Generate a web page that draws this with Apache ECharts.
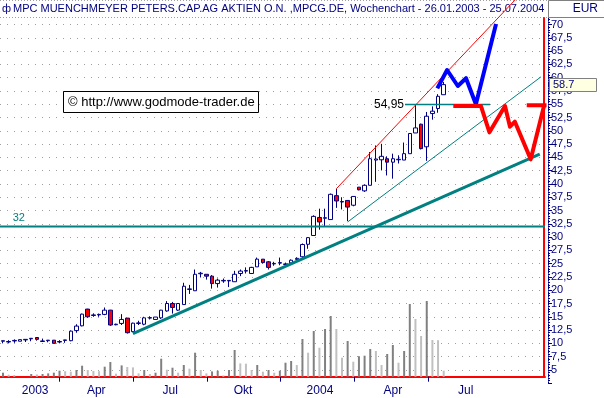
<!DOCTYPE html>
<html>
<head>
<meta charset="utf-8">
<script src="https://cdn.jsdelivr.net/npm/echarts@6/dist/echarts.min.js"></script>
<style>
html, body { margin: 0; padding: 0; background: #fff; }
#chart { width: 604px; height: 398px; }
</style>
</head>
<body>
<div id="chart"></div>
<script>
// weekly bars, index 0 = week of 26.01.2003, index 78 = week of 25.07.2004
var open = [
  10.4, 10.25, 10.45, 10.4, 10.65, 10.85, 11.1, 10.35, 10.5, 10.6,
  10.25, 10.55, 10.5, 12.4, 13.3, 16.45, 15.25, 15.35, 15.45, 16.25,
  13.5, 13.75, 14.75, 12.2, 13.75, 13.6, 14.75, 14.5, 14.8, 16.1,
  17.5, 16.25, 17.3, 20.15, 19.9, 23.1, 23.0, 22.65, 21.25, 21.75,
  21.75, 21.6, 23.15, 23.6, 23.15, 24.4, 25.85, 25.35, 24.95, 25.1,
  24.85, 25.15, 25.8, 26.3, 28.65, 30.3, 33.7, 33.55, 33.3, 37.8,
  36.6, 36.9, 36.0, 39.4, 38.7, 39.75, 44.5, 44.55, 44.75, 44.1,
  44.55, 44.5, 45.7, 49.6, 51.25, 47.0, 53.25, 54.2, 56.8
];
var close = [
  10.5, 10.35, 10.55, 10.7, 10.75, 10.95, 10.75, 10.45, 10.6, 10.0,
  10.35, 10.65, 12.3, 13.25, 15.5, 15.0, 15.35, 15.45, 16.25, 13.45,
  13.6, 14.5, 12.0, 13.8, 13.85, 14.8, 14.85, 14.95, 16.25, 17.5,
  16.75, 17.5, 20.75, 20.25, 23.0, 23.2, 22.65, 21.25, 21.9, 21.85,
  21.85, 23.0, 23.6, 23.7, 24.3, 25.85, 25.2, 24.3, 25.05, 25.2,
  24.95, 25.65, 26.0, 28.6, 29.9, 33.9, 32.85, 33.65, 38.05, 36.8,
  36.7, 35.65, 37.65, 38.9, 39.75, 44.75, 44.7, 45.2, 44.1, 44.75,
  44.65, 45.7, 49.5, 50.55, 46.65, 52.75, 53.7, 56.5, 58.7
];
var low = [
  10.0, 10.0, 10.1, 10.4, 10.25, 10.4, 10.5, 10.35, 10.2, 10.0,
  10.0, 10.1, 10.4, 12.0, 13.2, 14.8, 15.0, 15.0, 15.3, 13.3,
  13.4, 13.45, 11.85, 12.1, 13.45, 13.4, 14.5, 14.5, 14.6, 15.95,
  15.6, 16.1, 17.3, 19.3, 19.9, 22.4, 22.0, 20.3, 20.5, 21.4,
  20.6, 21.6, 22.65, 23.15, 23.15, 24.4, 25.0, 23.9, 24.6, 24.7,
  24.5, 25.0, 25.6, 26.0, 27.8, 30.3, 31.4, 32.0, 33.3, 35.5,
  35.2, 33.0, 35.8, 38.8, 38.5, 39.75, 40.4, 42.55, 41.6, 41.0,
  43.85, 44.5, 45.7, 49.6, 46.5, 44.35, 52.1, 53.4, 56.8
];
var high = [
  10.5, 10.6, 10.75, 10.7, 10.75, 10.95, 11.1, 10.9, 10.6, 10.6,
  10.6, 10.65, 12.4, 13.6, 15.6, 16.5, 15.65, 15.6, 16.75, 16.3,
  13.7, 15.5, 14.75, 13.9, 14.25, 15.0, 15.1, 14.95, 16.3, 17.95,
  17.8, 17.6, 21.4, 21.0, 23.9, 23.45, 23.0, 22.85, 22.2, 22.2,
  21.85, 23.65, 23.9, 24.3, 24.4, 26.15, 25.85, 25.5, 25.35, 26.15,
  25.2, 25.8, 26.2, 28.8, 30.0, 34.1, 35.35, 35.35, 38.2, 39.1,
  37.5, 36.9, 37.65, 39.4, 39.9, 46.0, 47.25, 47.55, 45.2, 45.7,
  45.4, 47.8, 49.5, 54.95, 51.35, 53.55, 54.6, 56.9, 59.2
];
// volume, relative units (no scale shown in the chart)
var volume = [
  4, 2, 1.7, 0, 0, 2.7, 2.3, 2.7, 3.3, 4,
  6, 5.5, 5, 6.7, 11, 6.7, 5.7, 5.5, 10, 14.7,
  3, 11.3, 9.7, 9.3, 3.3, 6.7, 2.7, 4, 18, 7,
  9, 4, 11.7, 8, 24, 6.7, 3.3, 5.3, 6, 1.3,
  6.7, 26.7, 13.3, 13, 6.7, 11.7, 5, 6.7, 4, 6,
  14, 15.7, 11.7, 37.7, 24, 45.7, 29, 47.7, 60.7, 47.7,
  19, 35.7, 15, 20.5, 21, 27.7, 25.7, 11.7, 22.7, 31.7,
  14, 25.7, 72.7, 57.7, 40.7, 75.7, 36.7, 36.5, 6
];

// x axis: quarter ticks and labels (in week units)
var tickWeeks = [9.9, 23.0, 36.1, 49.0, 62.1, 75.2];
var labelWeeks = [5.7, 16.5, 29.6, 42.5, 56.1, 69.0, 81.9];
var quarterNames = ['2003', 'Apr', 'Jul', 'Okt', '2004', 'Apr', 'Jul'];

// drawn trend lines and projections [week, price]
var level32 = [[-0.53, 32], [95.93, 32]];
var level5495 = [[71.15, 54.95], [86.2, 54.95]];
var supportLine = [[23, 11.85], [95, 45.6]];
var channelLine = [[61, 32.85], [95.2, 60.15]];
var upperLine = [[59, 39.1], [90.6, 74.6]];
var blueProj = [[76.87, 58.0], [78.6, 61.45], [80.5, 58.44], [81.95, 59.9], [83.7, 55.0], [87.26, 70.1]];
var redProj = [[79.7, 54.67], [84.6, 54.67], [86.1, 49.72], [88.85, 54.67], [89.73, 50.78], [90.6, 51.72], [93.4, 44.64], [95.75, 54.67]];
var redTarget = [[92.7, 54.8], [96.2, 54.8]];

var NAVY = '#000080', TEAL = '#008080';
var FONT = '"Liberation Sans", Arial, sans-serif';

var candles = open.map(function (o, i) { return [i, o, close[i], low[i], high[i]]; });
var volData = volume.map(function (v, i) { return [i, v]; });

function line(data, color, width, extra) {
  var s = {
    type: 'line', data: data, symbol: 'none', silent: true,
    xAxisIndex: 0, yAxisIndex: 0, z: 5,
    lineStyle: { color: color, width: width, join: 'round' }
  };
  for (var k in extra) s[k] = extra[k];
  return s;
}

var chart = echarts.init(document.getElementById('chart'));
var option = {
  animation: false,
  backgroundColor: '#fff',
  textStyle: { fontFamily: FONT },
  grid: { left: 0, top: 11.3, width: 545, height: 371.9, outerBoundsMode: 'none', containLabel: false },
  xAxis: {
    type: 'value', min: -0.53, max: 95.93, position: 'bottom', offset: -6.5,
    axisLine: { onZero: false, lineStyle: { color: '#ff0000', width: 2 } },
    axisTick: { show: true, customValues: tickWeeks, length: 5, lineStyle: { color: NAVY } },
    axisLabel: {
      customValues: labelWeeks, color: NAVY, fontSize: 12, margin: 8, fontFamily: FONT,
      formatter: function (v) {
        for (var k = 0; k < labelWeeks.length; k++) if (Math.abs(labelWeeks[k] - v) < 1e-6) return quarterNames[k];
        return '';
      }
    },
    splitLine: { show: false }
  },
  yAxis: [{
    type: 'value', position: 'right', offset: 3, min: 2.5, max: 72.5, interval: 2.5,
    axisLine: { show: true, onZero: false, lineStyle: { color: NAVY, type: 'dotted' } },
    axisTick: { show: true, length: 4, lineStyle: { color: NAVY } },
    minorTick: { show: true, splitNumber: 5, length: 2, lineStyle: { color: NAVY } },
    axisLabel: {
      color: NAVY, fontSize: 11, margin: 3, fontFamily: FONT,
      showMinLabel: false, showMaxLabel: false,
      formatter: function (v) { return String(v).replace('.', ','); }
    },
    splitLine: { show: true, showMinLine: false, showMaxLine: false, lineStyle: { color: '#a0a0a0', type: [1, 6] } }
  }, {
    type: 'value', position: 'left', show: false, min: -6.5, max: 365.4,
    axisLine: { show: false, onZero: false }, axisTick: { show: false }, axisLabel: { show: false }, splitLine: { show: false }
  }],
  series: [
    {
      type: 'bar', data: volData, xAxisIndex: 0, yAxisIndex: 1, barWidth: 2, silent: true, z: 1, clip: false,
      itemStyle: {
        color: function (p) {
          var i = p.dataIndex;
          return (i === 0 || volume[i] > volume[i - 1]) ? '#808080' : '#c0c0c0';
        }
      },
      // red right-hand frame of the plot, from the x axis up to the title bar
      markLine: {
        silent: true, symbol: 'none', label: { show: false },
        lineStyle: { color: '#ff0000', width: 2, type: 'solid' },
        data: [[{ coord: [95.75, 0] }, { coord: [95.75, 359.5] }]]
      }
    },
    {
      type: 'candlestick', data: candles, xAxisIndex: 0, yAxisIndex: 0, barWidth: 4, silent: true, z: 3,
      itemStyle: { color: '#ffffff', color0: '#ff0000', borderColor: NAVY, borderColor0: NAVY, borderWidth: 1 }
    },
    line(level32, TEAL, 2),
    line(supportLine, TEAL, 3),
    line(channelLine, TEAL, 1),
    line(upperLine, '#ff0000', 1, { clip: false }),
    line(level5495, TEAL, 1.5),
    line(blueProj, '#0000ff', 4),
    line(redProj, '#ff0000', 4),
    line(redTarget, '#ff0000', 4)
  ]
};
chart.setOption(option);

// annotations anchored to data positions
var p32 = chart.convertToPixel({ xAxisIndex: 0, yAxisIndex: 0 }, [2.8, 32]);
var p5495 = chart.convertToPixel({ xAxisIndex: 0, yAxisIndex: 0 }, level5495[0]);
var pLast = chart.convertToPixel({ xAxisIndex: 0, yAxisIndex: 0 }, [0, close[close.length - 1]]);

chart.setOption({
  graphic: [
    { type: 'line', z: 0, shape: { x1: 0, y1: 0.5, x2: 548, y2: 0.5 }, style: { stroke: '#a0a0a0', lineDash: [1, 2] } },
    { type: 'line', z: 0, shape: { x1: 0, y1: 17.5, x2: 548, y2: 17.5 }, style: { stroke: '#a0a0a0', lineDash: [1, 2] } },
    { type: 'text', z: 0, x: 2, y: 9, style: { text: 'ф', fill: NAVY, font: '11px ' + FONT, verticalAlign: 'middle' } },
    { type: 'text', z: 0, x: 13, y: 9, style: {
      text: 'MPC MUENCHMEYER PETERS.CAP.AG AKTIEN O.N. ,MPCG.DE, Wochenchart - 26.01.2003 - 25.07.2004 -',
      fill: NAVY, font: '11px ' + FONT, verticalAlign: 'middle' } },
    { type: 'rect', z: 10, shape: { x: 548.5, y: 0.5, width: 56, height: 17 }, style: { fill: '#fff', stroke: '#808080' } },
    { type: 'text', z: 11, x: 598, y: 9, style: { text: 'EUR', fill: NAVY, font: '12px ' + FONT, align: 'right', verticalAlign: 'middle' } },
    { type: 'rect', z: 10, shape: { x: 549.5, y: Math.round(pLast[1]) - 6.5, width: 47, height: 13 }, style: { fill: '#ffffe1', stroke: '#808080' } },
    { type: 'text', z: 11, x: 553, y: pLast[1], style: { text: String(close[close.length - 1]), fill: NAVY, font: '11px ' + FONT, verticalAlign: 'middle' } },
    { type: 'rect', z: 10, shape: { x: 63.5, y: 91.5, width: 195, height: 21 }, style: { fill: '#fff', stroke: '#000' } },
    { type: 'text', z: 11, x: 68, y: 102, style: { text: '© http://www.godmode-trader.de', fill: '#000', font: '13px ' + FONT, verticalAlign: 'middle' } },
    { type: 'text', z: 11, x: p32[0], y: p32[1] - 3, style: { text: '32', fill: TEAL, font: '11px ' + FONT, align: 'center', verticalAlign: 'bottom' } },
    { type: 'text', z: 11, x: p5495[0] - 1, y: p5495[1], style: { text: '54,95', fill: '#000', font: '12px ' + FONT, align: 'right', verticalAlign: 'middle' } }
  ]
});
</script>
</body>
</html>
